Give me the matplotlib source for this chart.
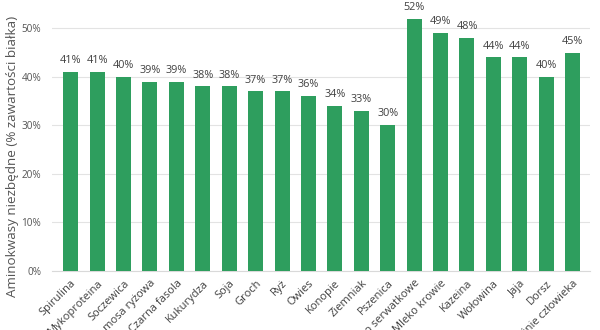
import numpy as np
import matplotlib.pyplot as plt

# --- DATA ---
categories = ["Spirulina", "Mykoproteina", "Soczewica", "Proteina mosa ryżowa",
              "Czarna fasola", "Kukurydza", "Soja", "Groch", "Ryż", "Owies",
              "Konopie", "Ziemniak", "Pszenica", "Białko serwatkowe",
              "Mleko krowie", "Kazeina", "Wołowina", "Jaja", "Dorsz",
              "Mięśnie człowieka"]
values = [41, 41, 40, 39, 39, 38, 38, 37, 37, 36, 34, 33, 30, 52, 49, 48, 44, 44, 40, 45]
yticks = [0, 10, 20, 30, 40, 50]

# --- PLOT ---
fig = plt.figure(figsize=(6, 3.3), dpi=100)
ax = fig.add_axes([0.087, 0.179, 0.896, 0.809])

x = np.arange(len(categories))
ax.bar(x, values, width=0.57, color="#2e9e5e", zorder=3)

for xi, v in zip(x, values):
    ax.text(xi, v + 1.2, f"{v}%", ha="center", va="bottom",
            fontsize=7.8, color="#404040", family="Open Sans")

ax.set_xlim(-0.7, len(categories) - 0.35)
ax.set_ylim(0, 55)
ax.set_yticks(yticks)
ax.set_yticklabels([f"{t}%" for t in yticks], fontsize=7.2, color="#555555",
                   family="Open Sans")
ax.grid(axis="y", color="#e3e3e3", linewidth=0.8, zorder=0)
ax.tick_params(axis="both", length=0)
ax.tick_params(axis="y", pad=8)

ax.set_xticks(x)
ax.set_xticklabels(categories, rotation=45, ha="right", rotation_mode="anchor",
                   fontsize=8, color="#404040", family="Open Sans")
ax.tick_params(axis="x", pad=5)

for s in ["top", "right", "left"]:
    ax.spines[s].set_visible(False)
ax.spines["bottom"].set_color("#d9d9d9")

ax.set_ylabel("Aminokwasy niezbędne (% zawartości białka)", fontsize=9.7,
              color="#555555", family="Open Sans")
ax.yaxis.set_label_coords(-0.062, 0.43)

fig.savefig("out.png", dpi=100)
